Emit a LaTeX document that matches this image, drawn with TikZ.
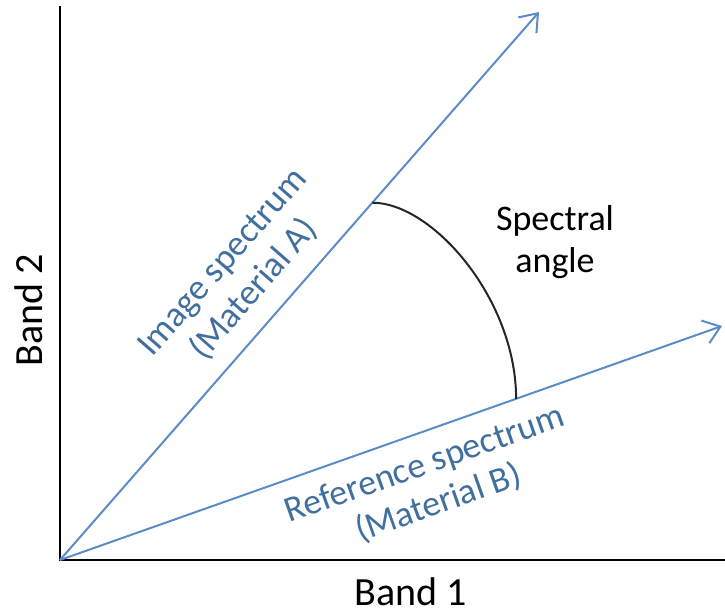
\documentclass[tikz,border=0pt]{standalone}
\usepackage{fontspec}
\setmainfont{Carlito}
\usetikzlibrary{arrows.meta,calc}
\definecolor{specblue}{HTML}{5B8CC8}
\definecolor{labelblue}{HTML}{41709F}

\begin{document}
\begin{tikzpicture}[x=0.75pt,y=-0.75pt,>={Straight Barb[length=12pt,width=18pt]},line width=1.5pt,
    speclabel/.style={sloped,align=center,text=labelblue,inner sep=0pt,font=\fontsize{27}{31}\selectfont}]
        \useasboundingbox (0,0) rectangle (725,612);
        \coordinate (origin) at (60,560);
        \coordinate (ytop) at (60,6);
        \coordinate (xend) at (725,560);
        \coordinate (tipA) at (539,12);
        \coordinate (tipB) at (722,326);
        \draw (ytop) -- (origin) -- (xend);
        \draw[->,specblue] (origin) -- (tipA) node[speclabel,pos=0.455,above=12pt] (labelA) {Image spectrum\\(Material A)};
        \draw[->,specblue] (origin) -- (tipB) node[speclabel,pos=0.535,below=12pt] (labelB) {Reference spectrum\\(Material B)};
        \coordinate (arcA) at ($(origin)!0.652!(tipA)$);
        \coordinate (arcB) at ($(origin)!0.689!(tipB)$);
        \draw[black!85] (arcA) .. controls +(60,0) and +(0,-100) .. (arcB);
        \node[align=center,font=\fontsize{27}{32}\selectfont] (angletext) at (555,242) {Spectral\\angle};
        \node[anchor=base,font=\fontsize{30}{36}\selectfont] (band1) at (411,605) {Band 1};
        \node[rotate=90,font=\fontsize{30}{36}\selectfont] (band2) at (29,310) {Band 2};
    \end{tikzpicture}
\end{document}
